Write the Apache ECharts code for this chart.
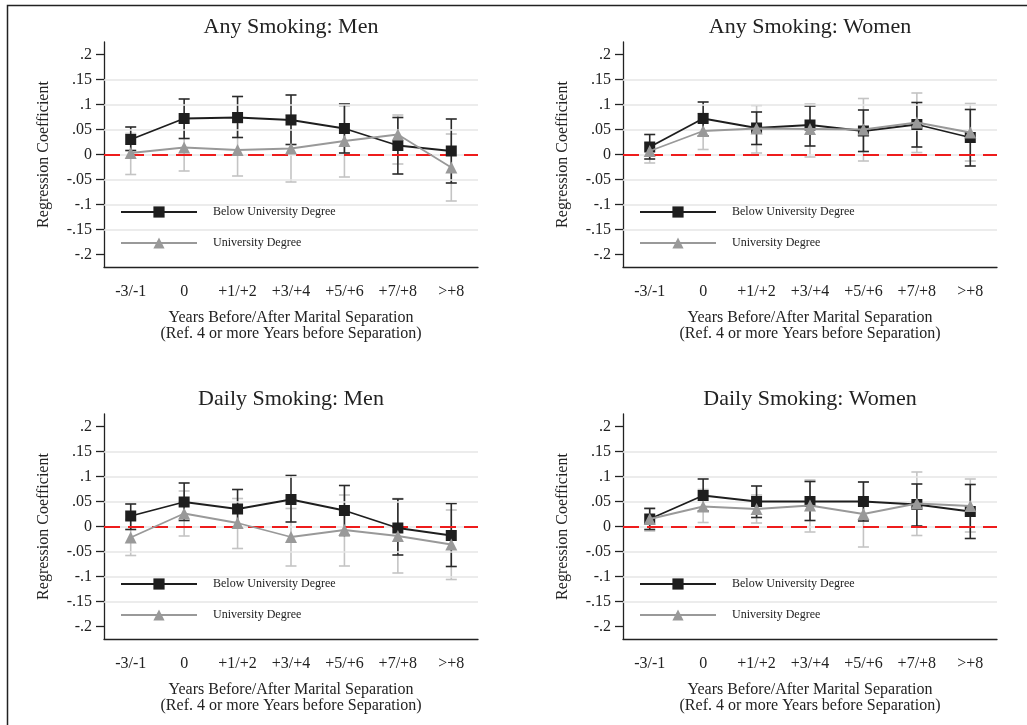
<!DOCTYPE html>
<html>
<head>
<meta charset="utf-8">
<script src="https://cdn.jsdelivr.net/npm/echarts@6/dist/echarts.min.js"></script>
<style>
html,body{margin:0;padding:0;background:#fff;}
#chart{width:1027px;height:725px;}
</style>
</head>
<body>
<div id="chart"></div>
<script>
// ---- Data ----
var categories = ['-3/-1', '0', '+1/+2', '+3/+4', '+5/+6', '+7/+8', '>+8'];
var yTicks = [-0.2, -0.15, -0.1, -0.05, 0, 0.05, 0.1, 0.15, 0.2];
var yTickLabels = ['-.2', '-.15', '-.1', '-.05', '0', '.05', '.1', '.15', '.2'];
var gridValues = [-0.15, -0.1, -0.05, 0, 0.05, 0.1, 0.15];
var panelTitles = ['Any Smoking: Men', 'Any Smoking: Women', 'Daily Smoking: Men', 'Daily Smoking: Women'];
var seriesNames = ['Below University Degree', 'University Degree'];

var anyMenBelow     = [0.030, 0.072, 0.074, 0.069, 0.052, 0.018, 0.007];
var anyMenBelowLo   = [0.008, 0.032, 0.034, 0.020, 0.003, -0.039, -0.057];
var anyMenBelowHi   = [0.055, 0.111, 0.116, 0.119, 0.101, 0.074, 0.071];
var anyMenUniv      = [0.003, 0.014, 0.009, 0.012, 0.027, 0.040, -0.026];
var anyMenUnivLo    = [-0.040, -0.033, -0.043, -0.055, -0.045, -0.019, -0.093];
var anyMenUnivHi    = [0.042, 0.063, 0.063, 0.079, 0.097, 0.079, 0.041];

var anyWomenBelow   = [0.015, 0.072, 0.053, 0.059, 0.047, 0.060, 0.034];
var anyWomenBelowLo = [-0.009, 0.037, 0.020, 0.017, 0.006, 0.015, -0.023];
var anyWomenBelowHi = [0.040, 0.105, 0.085, 0.097, 0.089, 0.104, 0.090];
var anyWomenUniv    = [0.007, 0.047, 0.052, 0.051, 0.050, 0.064, 0.044];
var anyWomenUnivLo  = [-0.017, 0.010, 0.003, -0.005, -0.013, 0.004, -0.013];
var anyWomenUnivHi  = [0.023, 0.082, 0.098, 0.101, 0.112, 0.123, 0.102];

var dailyMenBelow   = [0.021, 0.049, 0.035, 0.054, 0.032, -0.003, -0.018];
var dailyMenBelowLo = [-0.006, 0.012, -0.003, 0.009, -0.018, -0.057, -0.080];
var dailyMenBelowHi = [0.045, 0.087, 0.074, 0.102, 0.082, 0.055, 0.046];
var dailyMenUniv    = [-0.022, 0.026, 0.007, -0.021, -0.007, -0.019, -0.036];
var dailyMenUnivLo  = [-0.058, -0.019, -0.044, -0.079, -0.079, -0.093, -0.106];
var dailyMenUnivHi  = [0.014, 0.071, 0.056, 0.036, 0.063, 0.056, 0.033];

var dailyWomenBelow   = [0.015, 0.062, 0.050, 0.050, 0.050, 0.044, 0.030];
var dailyWomenBelowLo = [-0.006, 0.031, 0.018, 0.012, 0.011, 0.001, -0.024];
var dailyWomenBelowHi = [0.036, 0.095, 0.081, 0.090, 0.089, 0.085, 0.084];
var dailyWomenUniv    = [0.015, 0.040, 0.035, 0.042, 0.025, 0.046, 0.041];
var dailyWomenUnivLo  = [-0.009, 0.008, 0.007, -0.011, -0.041, -0.018, -0.011];
var dailyWomenUnivHi  = [0.037, 0.074, 0.063, 0.093, 0.089, 0.109, 0.095];

var panelData = [
  [anyMenBelow, anyMenBelowLo, anyMenBelowHi, anyMenUniv, anyMenUnivLo, anyMenUnivHi],
  [anyWomenBelow, anyWomenBelowLo, anyWomenBelowHi, anyWomenUniv, anyWomenUnivLo, anyWomenUnivHi],
  [dailyMenBelow, dailyMenBelowLo, dailyMenBelowHi, dailyMenUniv, dailyMenUnivLo, dailyMenUnivHi],
  [dailyWomenBelow, dailyWomenBelowLo, dailyWomenBelowHi, dailyWomenUniv, dailyWomenUnivLo, dailyWomenUnivHi]
];

// ---- Layout / style ----
var FONT = '"Liberation Serif", "Times New Roman", serif';
var gridPos = [
  {left: 104, top: 42, width: 374, height: 225},
  {left: 623, top: 42, width: 374, height: 225},
  {left: 104, top: 414, width: 374, height: 225},
  {left: 623, top: 414, width: 374, height: 225}
];
var BLACK = '#1e1e1e', GRAY = '#999999', BLACK_ERR = '#2a2a2a', GRAY_ERR = '#c4c4c4';

function errRender(color) {
  return function (params, api) {
    var x = api.value(0), lo = api.value(1), hi = api.value(2);
    var pLo = api.coord([x, lo]), pHi = api.coord([x, hi]);
    var cw = 5.5;
    var st = {stroke: color, lineWidth: 1.6};
    return {
      type: 'group',
      children: [
        {type: 'line', shape: {x1: pLo[0], y1: pLo[1], x2: pHi[0], y2: pHi[1]}, style: st},
        {type: 'line', shape: {x1: pLo[0] - cw, y1: pLo[1], x2: pLo[0] + cw, y2: pLo[1]}, style: st},
        {type: 'line', shape: {x1: pHi[0] - cw, y1: pHi[1], x2: pHi[0] + cw, y2: pHi[1]}, style: st}
      ]
    };
  };
}

var grids = [], xAxes = [], yAxes = [], series = [], titles = [], legends = [];
for (var i = 0; i < 4; i++) {
  var g = gridPos[i];
  grids.push({left: g.left, top: g.top, width: g.width, height: g.height});
  titles.push({
    text: panelTitles[i], left: g.left + g.width / 2, top: g.top - 26, textAlign: 'center', padding: 0,
    textStyle: {fontFamily: FONT, fontSize: 22, fontWeight: 'normal', color: '#222'}
  });
  xAxes.push({
    type: 'category', gridIndex: i, data: categories, boundaryGap: true,
    axisLine: {onZero: false, lineStyle: {color: '#222', width: 1.3}},
    axisTick: {alignWithLabel: true, length: 7, lineStyle: {color: '#222', width: 1.3}},
    axisLabel: {fontFamily: FONT, fontSize: 16, color: '#222', margin: 17},
    splitLine: {show: false},
    name: 'Years Before/After Marital Separation\n(Ref. 4 or more Years before Separation)',
    nameLocation: 'middle', nameGap: 43,
    nameTextStyle: {fontFamily: FONT, fontSize: 16, color: '#222', lineHeight: 16}
  });
  yAxes.push({
    type: 'value', gridIndex: i, min: -0.225, max: 0.225,
    axisLine: {show: true, lineStyle: {color: '#222', width: 1.3}},
    axisTick: {show: true, customValues: yTicks, length: 8, lineStyle: {color: '#222', width: 1.3}},
    axisLabel: {customValues: yTicks, fontFamily: FONT, fontSize: 16, color: '#222', margin: 12,
      formatter: function (v) {
        for (var k = 0; k < yTicks.length; k++) { if (Math.abs(yTicks[k] - v) < 1e-9) return yTickLabels[k]; }
        return '';
      }},
    splitLine: {show: false},
    name: 'Regression Coefficient', nameLocation: 'middle', nameGap: 52, nameRotate: 90,
    nameTextStyle: {fontFamily: FONT, fontSize: 16, color: '#222'}
  });
  var d = panelData[i];
  // reference lines (gridlines + red zero line)
  series.push({
    type: 'line', xAxisIndex: i, yAxisIndex: i, data: [], silent: true, z: 1,
    markLine: {
      silent: true, symbol: 'none', label: {show: false}, animation: false,
      lineStyle: {color: '#e6e6e6', width: 1.6, type: 'solid'},
      data: gridValues.map(function (v) { return {yAxis: v}; })
    }
  });
  series.push({
    type: 'line', xAxisIndex: i, yAxisIndex: i, data: [], silent: true, z: 2,
    markLine: {
      silent: true, symbol: 'none', label: {show: false}, animation: false,
      lineStyle: {color: '#ee1c1c', width: 2, type: [16, 8]},
      data: [{yAxis: 0}]
    }
  });
  // error bars
  series.push({
    type: 'custom', xAxisIndex: i, yAxisIndex: i, z: 3, silent: true,
    renderItem: errRender(GRAY_ERR),
    data: d[3].map(function (v, k) { return [k, d[4][k], d[5][k]]; })
  });
  series.push({
    type: 'custom', xAxisIndex: i, yAxisIndex: i, z: 4, silent: true,
    renderItem: errRender(BLACK_ERR),
    data: d[0].map(function (v, k) { return [k, d[1][k], d[2][k]]; })
  });
  series.push({
    name: seriesNames[0], type: 'line', xAxisIndex: i, yAxisIndex: i, z: 5,
    data: d[0], symbol: 'rect', symbolSize: 11, showSymbol: true,
    lineStyle: {color: BLACK, width: 1.8}, itemStyle: {color: BLACK}
  });
  series.push({
    name: seriesNames[1], type: 'line', xAxisIndex: i, yAxisIndex: i, z: 6,
    data: d[3], symbol: 'triangle', symbolSize: 12, showSymbol: true,
    lineStyle: {color: GRAY, width: 1.8}, itemStyle: {color: GRAY}
  });
  legends.push({
    data: seriesNames, orient: 'vertical', left: g.left + 11, top: g.top + 159,
    itemWidth: 76, itemHeight: 14, itemGap: 19, selectedMode: false,
    textStyle: {fontFamily: FONT, fontSize: 12, color: '#222', padding: [0, 0, 0, 11]}
  });
}

var chart = echarts.init(document.getElementById('chart'), null, {renderer: 'canvas'});
chart.setOption({
  animation: false,
  backgroundColor: '#ffffff',
  title: titles,
  legend: legends,
  grid: grids,
  xAxis: xAxes,
  yAxis: yAxes,
  series: series,
  graphic: [{
    type: 'rect', left: 5, top: 3, silent: true, z: 100,
    shape: {x: 0, y: 0, width: 1200, height: 900},
    style: {fill: null, stroke: '#222', lineWidth: 1.5}
  }]
});
</script>
</body>
</html>
